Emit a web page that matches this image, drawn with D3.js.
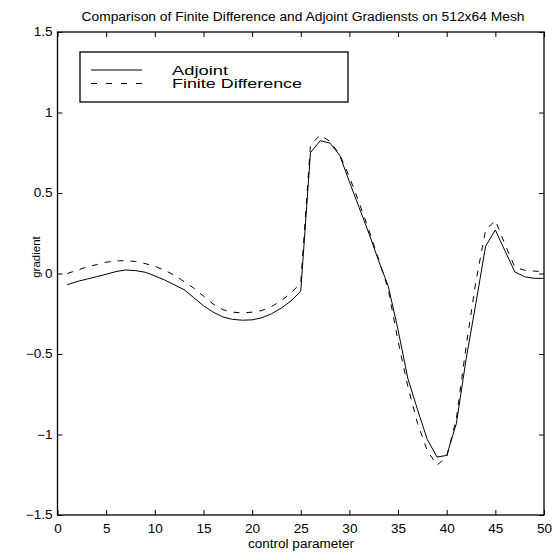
<!DOCTYPE html>
<html>
<head>
<meta charset="utf-8">
<script src="https://cdn.jsdelivr.net/npm/d3@7"></script>
<style>
  body { margin: 0; background: #fff; }
  text { font-family: "Liberation Sans", Arial, sans-serif; fill: #000; }
</style>
</head>
<body>
<div id="chart"></div>
<script>
// control parameter index 1..50
const controlParams = d3.range(1, 51);

const adjoint = [
  -0.07, -0.05, -0.035, -0.02, -0.005, 0.012, 0.022, 0.018, 0.008, -0.015,
  -0.04, -0.07, -0.10, -0.15, -0.20, -0.24, -0.27, -0.285, -0.29, -0.288,
  -0.275, -0.25, -0.215, -0.17, -0.11, 0.75, 0.825, 0.81, 0.735, 0.57,
  0.41, 0.25, 0.08, -0.08, -0.35, -0.65, -0.845, -1.03, -1.14, -1.13,
  -0.93, -0.53, -0.185, 0.17, 0.27, 0.14, 0.01, -0.02, -0.03, -0.03
];

const finiteDiff = [
  0.0, 0.02, 0.04, 0.055, 0.07, 0.078, 0.08, 0.075, 0.062, 0.045,
  0.02, -0.01, -0.05, -0.09, -0.14, -0.19, -0.225, -0.24, -0.245, -0.24,
  -0.23, -0.205, -0.17, -0.12, -0.06, 0.80, 0.86, 0.82, 0.74, 0.60,
  0.44, 0.27, 0.09, -0.10, -0.42, -0.70, -0.93, -1.10, -1.19, -1.14,
  -0.90, -0.45, -0.05, 0.27, 0.33, 0.18, 0.04, 0.02, 0.015, 0.01
];

const xTicks = d3.range(0, 51, 5);
const yTicks = [-1.5, -1, -0.5, 0, 0.5, 1, 1.5];
const legendLabels = ["Adjoint", "Finite Difference"];

const width = 554, height = 552;
const plotL = 57.5, plotR = 544, plotT = 32, plotB = 515;

const svg = d3.select("#chart").append("svg")
  .attr("width", width)
  .attr("height", height);

const x = d3.scaleLinear().domain([0, 50]).range([plotL, plotR]);
const y = d3.scaleLinear().domain([-1.5, 1.5]).range([plotB, plotT]);

const fmt = d3.format("~g");

// the old postscript fonts run wider than Liberation Sans
function widen(sel, k) {
  sel.each(function() {
    const w = this.getComputedTextLength();
    d3.select(this).attr("textLength", w * k).attr("lengthAdjust", "spacingAndGlyphs");
  });
}

// axes with inward ticks on all four sides
svg.append("g")
  .attr("transform", `translate(0,${plotB})`)
  .call(d3.axisBottom(x).tickValues(xTicks).tickSizeInner(-5).tickSizeOuter(0).tickPadding(9).tickFormat(fmt))
  .call(g => g.select(".domain").remove());

svg.append("g")
  .attr("transform", `translate(0,${plotT})`)
  .call(d3.axisTop(x).tickValues(xTicks).tickSizeInner(-5).tickSizeOuter(0).tickFormat(""))
  .call(g => g.select(".domain").remove());

svg.append("g")
  .attr("transform", `translate(${plotL},0)`)
  .call(d3.axisLeft(y).tickValues(yTicks).tickSizeInner(-5).tickSizeOuter(0).tickPadding(5).tickFormat(fmt))
  .call(g => g.select(".domain").remove());

svg.append("g")
  .attr("transform", `translate(${plotR},0)`)
  .call(d3.axisRight(y).tickValues(yTicks).tickSizeInner(-5).tickSizeOuter(0).tickFormat(""))
  .call(g => g.select(".domain").remove());

svg.selectAll(".tick text").attr("font-size", 12).attr("font-family", "Liberation Sans, Arial, sans-serif");
widen(svg.selectAll(".tick text"), 1.13);
svg.selectAll(".tick line").attr("stroke", "#000").attr("stroke-width", 1);

svg.append("rect")
  .attr("x", plotL).attr("y", plotT)
  .attr("width", plotR - plotL).attr("height", plotB - plotT)
  .attr("fill", "none").attr("stroke", "#000").attr("stroke-width", 1.3);

const line = d3.line()
  .x((d, i) => x(controlParams[i]))
  .y(d => y(d));

svg.append("path")
  .datum(adjoint)
  .attr("d", line)
  .attr("fill", "none")
  .attr("stroke", "#000")
  .attr("stroke-width", 1);

svg.append("path")
  .datum(finiteDiff)
  .attr("d", line)
  .attr("fill", "none")
  .attr("stroke", "#000")
  .attr("stroke-width", 1)
  .attr("stroke-dasharray", "6,7");

// legend
const legend = svg.append("g");
legend.append("rect")
  .attr("x", 80).attr("y", 52)
  .attr("width", 268).attr("height", 50)
  .attr("fill", "#fff").attr("stroke", "#000").attr("stroke-width", 1.3);

const legendWidths = [56, 130];
legendLabels.forEach((lab, i) => {
  const ly = 70 + i * 13.5;
  legend.append("line")
    .attr("x1", 91).attr("x2", 142)
    .attr("y1", ly).attr("y2", ly)
    .attr("stroke", "#000").attr("stroke-width", 1)
    .attr("stroke-dasharray", i === 1 ? "6,9" : null);
  legend.append("text")
    .attr("x", 172).attr("y", ly + 4.5)
    .attr("font-size", 12.5)
    .attr("textLength", legendWidths[i])
    .attr("lengthAdjust", "spacingAndGlyphs")
    .text(lab);
});

// title and axis labels
svg.append("text")
  .attr("x", 303).attr("y", 21)
  .attr("text-anchor", "middle")
  .attr("font-size", 12)
  .attr("textLength", 443)
  .attr("lengthAdjust", "spacingAndGlyphs")
  .text("Comparison of Finite Difference and Adjoint Gradiensts on 512x64 Mesh");

svg.append("text")
  .attr("x", 301).attr("y", 548)
  .attr("text-anchor", "middle")
  .attr("font-size", 12)
  .attr("textLength", 106)
  .attr("lengthAdjust", "spacingAndGlyphs")
  .text("control parameter");

svg.append("text")
  .attr("transform", `translate(40,257) rotate(-90)`)
  .attr("text-anchor", "middle")
  .attr("font-size", 11.5)
  .text("gradient");
</script>
</body>
</html>
